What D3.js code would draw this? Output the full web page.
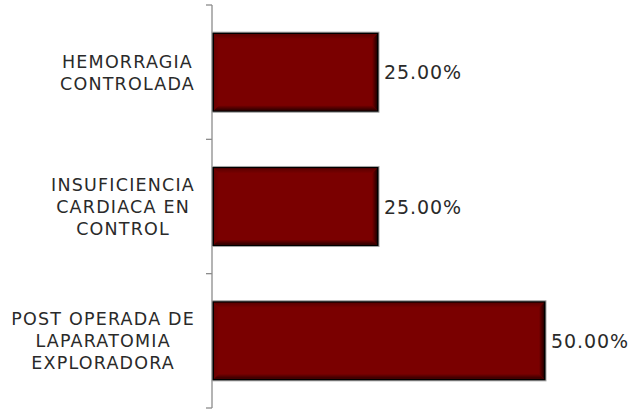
<!DOCTYPE html>
<html><head><meta charset="utf-8">
<script src="https://cdn.jsdelivr.net/npm/d3@7"></script>
<style>body{margin:0;background:#fff}svg{display:block}</style>
</head><body>
<script>
const categories = [
  ["HEMORRAGIA","CONTROLADA"],
  ["INSUFICIENCIA","CARDIACA EN","CONTROL"],
  ["POST OPERADA DE","LAPARATOMIA","EXPLORADORA"]
];
const values = [25, 25, 50];
const valueLabels = ["25.00%","25.00%","50.00%"];

const W = 641, H = 409;
const svg = d3.select("body").append("svg").attr("width", W).attr("height", H);
const keys = categories.map((c,i)=>String(i));
const y = d3.scaleBand().domain(keys).range([5,408]).paddingInner(0.404).paddingOuter(0.202);
const x = d3.scaleLinear().domain([0,50]).range([212,546]);

const defs = svg.append("defs");
function grad(id, x1,y1,x2,y2, c1, c2){
  const g = defs.append("linearGradient").attr("id",id).attr("x1",x1).attr("y1",y1).attr("x2",x2).attr("y2",y2);
  g.append("stop").attr("offset","0%").attr("stop-color",c1);
  g.append("stop").attr("offset","100%").attr("stop-color",c2);
}
const base = "#7a0000";
grad("gTop",0,0,0,1,"#5c0000",base);
grad("gLeft",0,0,1,0,"#6a0000",base);
grad("gRight",1,0,0,0,"#260000",base);
grad("gBottom",0,1,0,0,"#300000",base);

const font = "'DejaVu Sans', sans-serif";

// axis
const step = y.step();
const r0 = y.range()[0], r1 = y.range()[1];
const ax = svg.append("g").attr("stroke","#8c8c8c").attr("stroke-width",1.3).attr("fill","none");
ax.append("line").attr("x1",x(0)).attr("x2",x(0)).attr("y1",r0).attr("y2",r1);
const tickYs = d3.range(keys.length+1).map(i=>r0+i*step);
ax.selectAll("line.t").data(tickYs).join("line").attr("class","t")
  .attr("x1",x(0)-6).attr("x2",x(0)).attr("y1",d=>d).attr("y2",d=>d);

const bevel = 5, inset = 2;
keys.forEach((k,i)=>{
  const x0 = x(0), x1 = x(values[i]), y0 = y(k), y1 = y(k)+y.bandwidth();
  const g = svg.append("g");
  g.append("rect").attr("x",x0).attr("y",y0).attr("width",x1-x0).attr("height",y1-y0)
    .attr("fill","#000").attr("stroke","#a6a6a6").attr("stroke-width",1);
  const a0 = x0+inset, a1 = x1-inset, b0 = y0+inset, b1 = y1-inset;
  g.append("rect").attr("x",a0).attr("y",b0).attr("width",a1-a0).attr("height",b1-b0).attr("fill",base);
  const poly = (pts, f)=> g.append("polygon").attr("points",pts.map(p=>p.join(",")).join(" ")).attr("fill",f);
  poly([[a0,b0],[a1,b0],[a1-bevel,b0+bevel],[a0+bevel,b0+bevel]],"url(#gTop)");
  poly([[a0,b0],[a0+bevel,b0+bevel],[a0+bevel,b1-bevel],[a0,b1]],"url(#gLeft)");
  poly([[a1,b0],[a1,b1],[a1-bevel,b1-bevel],[a1-bevel,b0+bevel]],"url(#gRight)");
  poly([[a0,b1],[a1,b1],[a1-bevel,b1-bevel],[a0+bevel,b1-bevel]],"url(#gBottom)");

  // value label
  svg.append("text").attr("x",x1+5).attr("y",y0+y.bandwidth()/2+7)
    .attr("font-family",font).attr("font-size",19).attr("letter-spacing",0.9).attr("fill","#2a2a2a")
    .text(valueLabels[i]);

  // category label
  const lines = categories[i];
  const cy = y0 + y.bandwidth()/2;
  const lh = 22;
  const t = svg.append("text").attr("font-family",font).attr("font-size",17.5)
    .attr("letter-spacing",1.2).attr("fill","#2a2a2a").attr("text-anchor","middle");
  lines.forEach((ln,j)=>{
    t.append("tspan").attr("x",0).attr("y",cy+(j-(lines.length-1)/2)*lh+6.5).text(ln);
  });
  const bb = t.node().getBBox();
  t.attr("transform",`translate(${195-bb.width/2},0)`);
});
</script>
</body></html>
